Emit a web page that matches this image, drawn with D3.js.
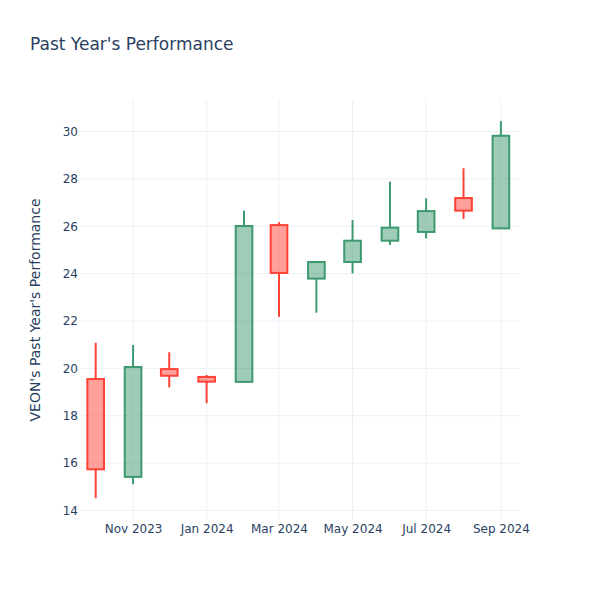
<!DOCTYPE html>
<html>
<head>
<meta charset="utf-8">
<script src="https://cdn.jsdelivr.net/npm/d3@7"></script>
<style>
  body { margin: 0; background: #fff; }
  text { font-family: "DejaVu Sans", verdana, arial, sans-serif; }
</style>
</head>
<body>
<svg id="chart" width="600" height="600"></svg>
<script>
const dates = ["2023-10-01","2023-11-01","2023-12-01","2024-01-01","2024-02-01","2024-03-01","2024-04-01","2024-05-01","2024-06-01","2024-07-01","2024-08-01","2024-09-01"];
const opens  = [19.55, 15.42, 19.97, 19.64, 19.43, 26.05, 23.79, 24.49, 25.39, 25.76, 27.19, 25.91];
const highs  = [21.08, 20.99, 20.68, 19.72, 26.66, 26.17, 24.50, 26.26, 27.88, 27.18, 28.45, 30.44];
const lows   = [14.52, 15.11, 19.20, 18.53, 19.40, 22.18, 22.35, 24.01, 25.21, 25.49, 26.31, 25.89];
const closes = [15.74, 20.06, 19.69, 19.44, 26.01, 24.03, 24.49, 25.39, 25.94, 26.64, 26.66, 29.82];
const yTicks = [14, 16, 18, 20, 22, 24, 26, 28, 30];
const xTicks = ["2023-11-01","2024-01-01","2024-03-01","2024-05-01","2024-07-01","2024-09-01"];
const xTickLabels = ["Nov 2023","Jan 2024","Mar 2024","May 2024","Jul 2024","Sep 2024"];
const titleText = "Past Year's Performance";
const yTitle = "VEON's Past Year's Performance";

const parse = d3.utcParse("%Y-%m-%d");
const data = dates.map((d, i) => ({date: parse(d), o: opens[i], h: highs[i], l: lows[i], c: closes[i]}));

const W = 600, H = 600;
const m = {l: 80, r: 80, t: 100, b: 80};
const svg = d3.select("#chart");

const x = d3.scaleUtc()
  .domain([parse("2023-09-18"), new Date(parse("2024-09-16").getTime() + 20*3600*1000)])
  .range([m.l, W - m.r]);
const y = d3.scaleLinear().domain([13.6, 31.33]).range([H - m.b, m.t]);

const grid = svg.append("g");
grid.selectAll("line.h").data(yTicks).join("line")
  .attr("x1", m.l).attr("x2", W - m.r)
  .attr("y1", d => y(d)).attr("y2", d => y(d))
  .attr("stroke", "#EBF0F8").attr("stroke-width", 1);
grid.selectAll("line.v").data(xTicks).join("line")
  .attr("x1", d => x(parse(d))).attr("x2", d => x(parse(d)))
  .attr("y1", m.t).attr("y2", H - m.b)
  .attr("stroke", "#EBF0F8").attr("stroke-width", 1);

const yAxis = d3.axisLeft(y).tickValues(yTicks).tickSize(0).tickPadding(0);
const gy = svg.append("g").attr("transform", `translate(${m.l - 2},0)`).call(yAxis);
gy.select(".domain").remove();
gy.selectAll("text").attr("fill", "#2a3f5f").style("font-size", "12px");

const xAxis = d3.axisBottom(x).tickValues(xTicks.map(parse)).tickSize(0).tickPadding(0)
  .tickFormat((d, i) => xTickLabels[i]);
const gx = svg.append("g").attr("transform", `translate(0,${H - m.b + 4})`).call(xAxis);
gx.select(".domain").remove();
gx.selectAll("text").attr("fill", "#2a3f5f").style("font-size", "12px");

const up = "#3D9970", down = "#FF4136";
const halfW = 6.9 * 24 * 3600 * 1000;
const candles = svg.append("g").selectAll("g").data(data).join("g");
candles.each(function(d) {
  const g = d3.select(this);
  const inc = d.c >= d.o;
  const col = inc ? up : down;
  const fill = inc ? "rgba(61,153,112,0.5)" : "rgba(255,65,54,0.5)";
  const cx = x(d.date);
  const x0 = x(new Date(d.date.getTime() - halfW)), x1 = x(new Date(d.date.getTime() + halfW));
  const top = y(Math.max(d.o, d.c)), bot = y(Math.min(d.o, d.c));
  g.append("line").attr("x1", cx).attr("x2", cx).attr("y1", y(d.h)).attr("y2", top)
    .attr("stroke", col).attr("stroke-width", 2);
  g.append("line").attr("x1", cx).attr("x2", cx).attr("y1", bot).attr("y2", y(d.l))
    .attr("stroke", col).attr("stroke-width", 2);
  g.append("rect").attr("x", x0).attr("y", top).attr("width", x1 - x0).attr("height", Math.max(bot - top, 0.5))
    .attr("fill", fill).attr("stroke", col).attr("stroke-width", 2);
});

svg.append("text").attr("x", 30).attr("y", 50).text(titleText)
  .attr("fill", "#2a3f5f").style("font-size", "17px");

svg.append("text")
  .attr("transform", `translate(40,${(m.t + H - m.b) / 2}) rotate(-90)`)
  .attr("text-anchor", "middle").text(yTitle)
  .attr("fill", "#2a3f5f").style("font-size", "14px");
</script>
</body>
</html>
